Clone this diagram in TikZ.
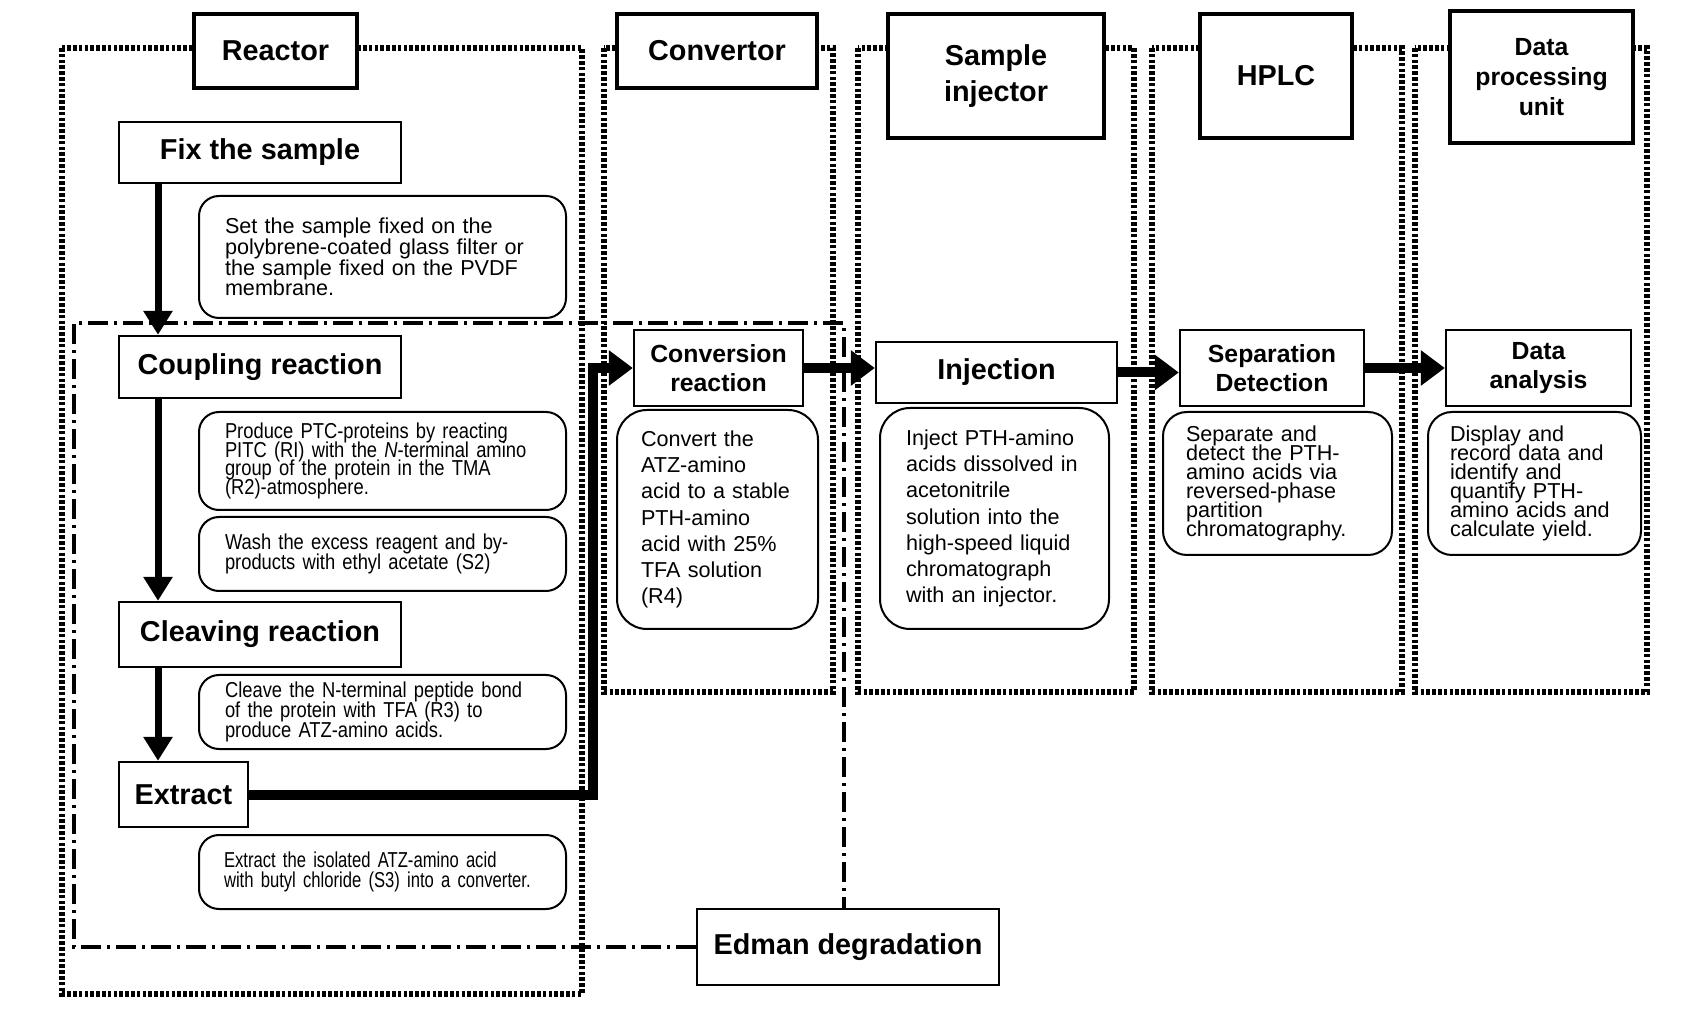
\documentclass[tikz,border=0pt]{standalone}
\usepackage{fontspec}
\setmainfont{Liberation Sans}
\newfontfamily\narrowfont[FakeStretch=0.85]{Liberation Sans}
\newfontfamily\narrowerfont[FakeStretch=0.77]{Liberation Sans}
\usetikzlibrary{arrows.meta, positioning, calc}

\newcommand\unitfont{\fontsize{14.4}{18}\selectfont\bfseries}
\newcommand\smallunitfont{\fontsize{12.4}{14.8}\selectfont\bfseries}
\newcommand\notesize[1]{\fontsize{10.8}{#1}\selectfont\lineskiplimit=-10pt\hyphenpenalty=10000\relax}

\tikzset{
  frame/.style={line width=3pt, dash pattern=on 1.8pt off 1.1pt},
  cycleline/.style={line width=2.2pt, dash pattern=on 10pt off 3pt on 1.5pt off 3pt},
  unitbox/.style={draw, line width=2pt, fill=white, align=center, inner sep=0pt, font=\unitfont},
  stepbox/.style={draw, line width=1.2pt, fill=white, align=center, inner sep=0pt, font=\unitfont},
  notebox/.style={draw, line width=1pt, rounded corners=10pt, fill=white, align=left, inner xsep=13pt, inner ysep=0pt},
  down/.style={line width=3.5pt, -{Triangle[width=14pt, length=12pt]}},
  flow/.style={line width=5pt, -{Triangle[width=17pt, length=12pt]}}
}

\begin{document}
\begin{tikzpicture}[x=0.5pt, y=-0.5pt]
  \useasboundingbox (0,0) rectangle (1707,1020);
  \fill[white] (0,0) rectangle (1707,1020);

  \draw[frame] (62,48) rectangle (582,994);
  \foreach \xa/\xb in {604/833, 858/1134, 1152/1402, 1415/1647}
    \draw[frame] (\xa,48) rectangle (\xb,692);

  \coordinate (spine) at (158,0);
  \coordinate (bend) at (593,0);
  \coordinate (cycTL) at (74,323);
  \coordinate (cycTR) at (844,323);

  \node[unitbox, minimum width=81.5pt, minimum height=37pt] (reactor) at (275.5,51) {Reactor};
  \node[unitbox, minimum width=100pt, minimum height=37pt] (convertor) at (717,51) {Convertor};
  \node[unitbox, minimum width=108pt, minimum height=62pt] (injector) at (996,76) {Sample\\injector};
  \node[unitbox, minimum width=76pt, minimum height=62pt] (hplc) at (1276,76) {HPLC};
  \node[unitbox, minimum width=91.5pt, minimum height=66pt, font={\fontsize{12.4}{15}\selectfont\bfseries}] (dpu) at (1541.5,77) {Data\\processing\\unit};

  \node[stepbox, minimum width=141pt, minimum height=30.5pt] (fix) at (260,152.5) {Fix the sample};
  \node[stepbox, minimum width=141pt, minimum height=31pt] (coup) at (260,367) {Coupling reaction};
  \node[stepbox, minimum width=141pt, minimum height=32.5pt] (cleav) at (260,634.5) {Cleaving reaction};
  \node[stepbox, minimum width=64.5pt, minimum height=32.5pt] (ext) at (183.5,794.5) {Extract};
  \node[stepbox, minimum width=84.5pt, minimum height=38pt, font=\smallunitfont] (conv) at (718.5,368) {Conversion\\reaction};
  \node[stepbox, minimum width=120.5pt, minimum height=30.5pt] (inj) at (996.5,372.5) {Injection};
  \node[stepbox, minimum width=92pt, minimum height=38pt, font=\smallunitfont] (sep) at (1272,368) {Separation\\Detection};
  \node[stepbox, minimum width=92.5pt, minimum height=38pt, font=\smallunitfont] (ana) at (1538.5,368) {Data\\analysis};
  \node[stepbox, minimum width=151pt, minimum height=38pt] (edm) at (848,947) {Edman degradation};

  \node[notebox, text width=157.5pt, minimum height=61pt, font={\notesize{10.4}}] (fixnote) at (382.5,257) {Set the sample fixed on the\\polybrene-coated glass filter or\\the sample fixed on the PVDF\\membrane.};
  \node[notebox, text width=157.5pt, minimum height=49pt, font={\narrowfont\notesize{9.4}}] (coupnote) at (382.5,461) {Produce PTC-proteins by reacting\\PITC (RI) with the \textit{N}-terminal amino\\group of the protein in the TMA\\(R2)-atmosphere.};
  \node[notebox, text width=157.5pt, minimum height=37pt, font={\narrowfont\notesize{9.8}}] (washnote) at (382.5,554) {Wash the excess reagent and by-\\products with ethyl acetate (S2)};
  \node[notebox, text width=157.5pt, minimum height=37pt, font={\narrowfont\notesize{9.8}}] (cleavnote) at (382.5,712) {Cleave the N-terminal peptide bond\\of the protein with TFA (R3) to\\produce ATZ-amino acids.};
  \node[notebox, text width=158.5pt, minimum height=37pt, inner xsep=12.5pt, font={\narrowerfont\notesize{9.8}}] (extnote) at (382.5,872) {Extract the isolated ATZ-amino acid\\with butyl chloride (S3) into a converter.};
  \node[notebox, text width=76.5pt, minimum height=109.5pt, inner xsep=12pt, rounded corners=15pt, font={\notesize{13.1}}] (convnote) at (717.5,519.5) {Convert the\\ATZ-amino\\acid to a stable\\PTH-amino\\acid with 25\%\\TFA solution\\(R4)};
  \node[notebox, text width=88.5pt, minimum height=110.5pt, rounded corners=15pt, font={\notesize{13.1}}] (injnote) at (994.5,518.5) {Inject PTH-amino\\acids dissolved in\\acetonitrile\\solution into the\\high-speed liquid\\chromatograph\\with an injector.};
  \node[notebox, text width=91.5pt, minimum height=71.5pt, inner xsep=11.5pt, rounded corners=12pt, font={\notesize{9.5}}] (sepnote) at (1277.5,483.5) {Separate and\\detect the PTH-\\amino acids via\\reversed-phase\\partition\\chromatography.};
  \node[notebox, text width=84.5pt, minimum height=71.5pt, inner xsep=11pt, rounded corners=12pt, font={\notesize{9.5}}] (ananote) at (1534.5,483.5) {Display and\\record data and\\identify and\\quantify PTH-\\amino acids and\\calculate yield.};

  \draw[cycleline] (edm.west) -| (cycTL) -- (cycTR) -- (cycTR |- edm.north);

  \draw[down] (fix.south -| spine) -- (coup.north -| spine);
  \draw[down] (coup.south -| spine) -- (cleav.north -| spine);
  \draw[down] (cleav.south -| spine) -- (ext.north -| spine);
  \draw[flow] (ext.east) -| (bend |- conv.west) -- (conv.west);
  \draw[flow] (conv.east) -- (inj.west |- conv.east);
  \draw[flow] (inj.east) -- (sep.west |- inj.east);
  \draw[flow] (sep.east) -- (ana.west);
\end{tikzpicture}
\end{document}
